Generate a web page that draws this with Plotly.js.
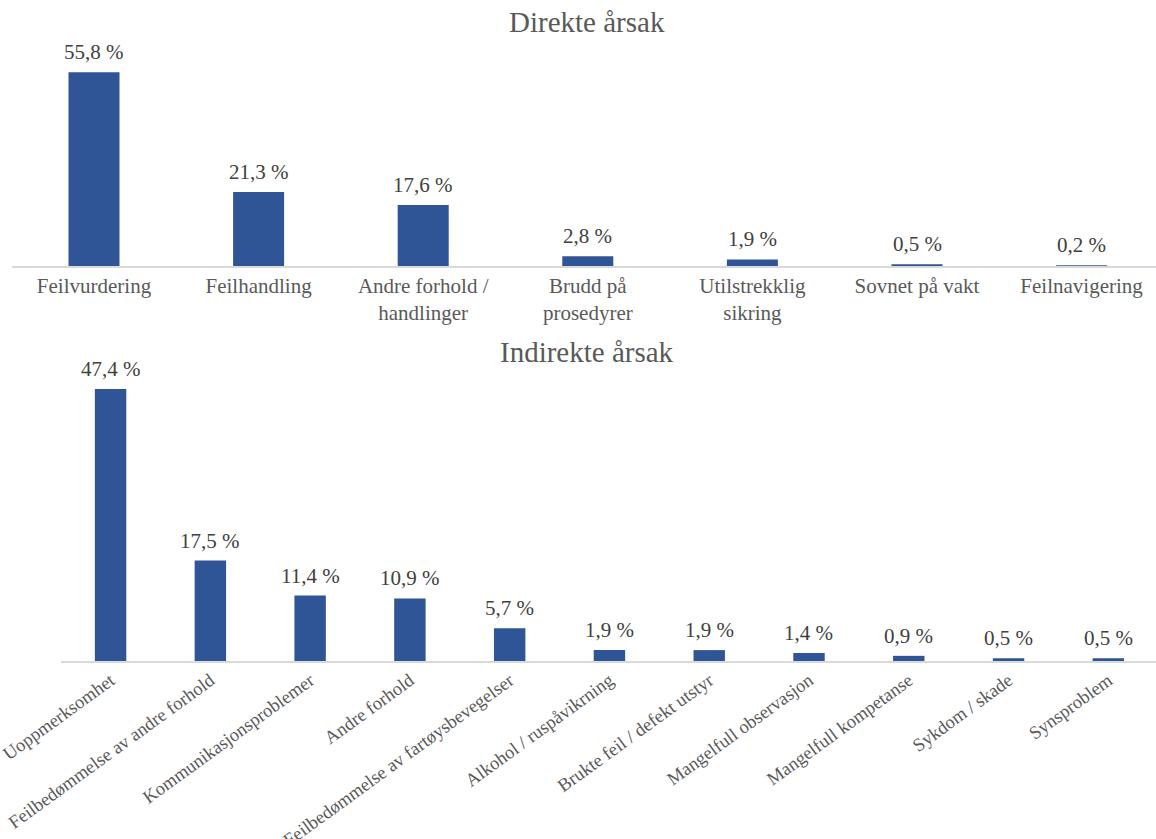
<!DOCTYPE html>
<html>
<head>
<meta charset="utf-8">
<script src="https://cdn.plot.ly/plotly-3.0.1.min.js"></script>
<style>
html,body{margin:0;padding:0;background:#fff;overflow:hidden;}
#chart{width:1156px;height:839px;}
</style>
</head>
<body>
<div id="chart"></div>
<script>
const directCats = ['Feilvurdering','Feilhandling','Andre forhold /<br>handlinger','Brudd på<br>prosedyrer','Utilstrekklig<br>sikring','Sovnet på vakt','Feilnavigering'];
const directVals = [55.8, 21.3, 17.6, 2.8, 1.9, 0.5, 0.2];

const indirectCats = ['Uoppmerksomhet','Feilbedømmelse av andre forhold','Kommunikasjonsproblemer','Andre forhold','Feilbedømmelse av fartøysbevegelser','Alkohol / ruspåvikrning','Brukte feil / defekt utstyr','Mangelfull observasjon','Mangelfull kompetanse','Sykdom / skade','Synsproblem'];
const indirectVals = [47.4, 17.5, 11.4, 10.9, 5.7, 1.9, 1.9, 1.4, 0.9, 0.5, 0.5];

const titleDirect = 'Direkte årsak';
const titleIndirect = 'Indirekte årsak';

const W = 1156, H = 839;
const FONT = 'Liberation Serif';
const BAR = '#2F5597';
const fmt = v => v.toFixed(1).replace('.', ',') + ' %';

const traces = [
  {type:'bar', x: directCats, y: directVals, xaxis:'x', yaxis:'y', width:0.31,
   marker:{color:BAR}, hoverinfo:'none'},
  {type:'bar', x: indirectCats, y: indirectVals, xaxis:'x2', yaxis:'y2', width:0.315,
   marker:{color:BAR}, hoverinfo:'none'}
];

const annotations = [];
directCats.forEach((c,i)=>annotations.push({x:c, y:directVals[i], xref:'x', yref:'y', text:fmt(directVals[i]),
  showarrow:false, yanchor:'bottom', yshift:6, font:{family:FONT, size:21, color:'#404040'}}));
indirectCats.forEach((c,i)=>annotations.push({x:c, y:indirectVals[i], xref:'x2', yref:'y2', text:fmt(indirectVals[i]),
  showarrow:false, yanchor:'bottom', yshift:6, font:{family:FONT, size:21, color:'#404040'}}));
annotations.push({text:titleDirect, xref:'paper', yref:'paper', x:587/W, y:1-22/H, xanchor:'center', yanchor:'middle',
  showarrow:false, font:{family:FONT, size:29, color:'#595959'}});
annotations.push({text:titleIndirect, xref:'paper', yref:'paper', x:587/W, y:1-352/H, xanchor:'center', yanchor:'middle',
  showarrow:false, font:{family:FONT, size:29, color:'#595959'}});

const layout = {
  width:W, height:H,
  margin:{l:0,r:0,t:0,b:0},
  paper_bgcolor:'#fff', plot_bgcolor:'#fff',
  showlegend:false,
  font:{family:FONT, color:'#595959'},
  xaxis:{domain:[11.7/W,1], range:[-0.5,6.452], type:'category', anchor:'y',
    showline:true, linecolor:'#d9d9d9', linewidth:1.5, ticks:'', showgrid:false, zeroline:false,
    tickangle:0, automargin:false, fixedrange:true, tickfont:{family:FONT, size:21, color:'#595959'}},
  yaxis:{domain:[1-266/H, 1-40/H], range:[0, 226/3.471], visible:false, fixedrange:true},
  xaxis2:{domain:[60.7/W,1], range:[-0.5,10.478], type:'category', anchor:'y2',
    showline:true, linecolor:'#d9d9d9', linewidth:1.5, ticks:'', showgrid:false, zeroline:false,
    tickangle:-36, automargin:false, fixedrange:true, tickfont:{family:FONT, size:18.5, color:'#595959'}},
  yaxis2:{domain:[1-661/H, 1-370/H], range:[0, 291/5.738], visible:false, fixedrange:true},
  annotations: annotations
};

Plotly.newPlot('chart', traces, layout, {displayModeBar:false, staticPlot:true});
</script>
</body>
</html>
